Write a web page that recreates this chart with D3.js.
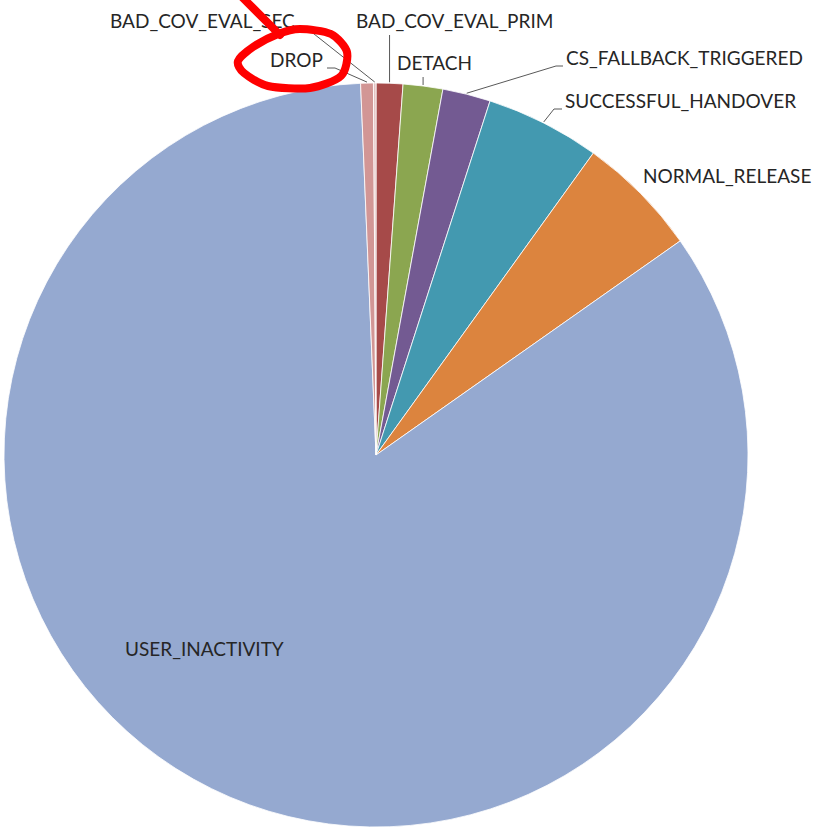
<!DOCTYPE html>
<html>
<head>
<meta charset="utf-8">
<script src="https://cdn.jsdelivr.net/npm/d3@7"></script>
<style>
  html, body { margin: 0; padding: 0; background: #fff; }
  svg { display: block; }
  text { font-family: Lato, "Liberation Sans", sans-serif; fill: #262626; }
</style>
</head>
<body>
<svg id="chart" width="820" height="829"></svg>
<script>
// Connection release causes, share of all releases (%), clockwise from 12 o'clock
const categories = [
  "BAD_COV_EVAL_PRIM", "DETACH", "CS_FALLBACK_TRIGGERED", "SUCCESSFUL_HANDOVER",
  "NORMAL_RELEASE", "USER_INACTIVITY", "DROP", "BAD_COV_EVAL_SEC"
];
const shares = [1.16, 1.72, 2.08, 4.97, 5.31, 84.1, 0.55, 0.11];
const sliceColors = [
  "#a64a49", "#8ba650", "#735a92", "#4399b0",
  "#dc843e", "#95a9d0", "#d29695", "#e4c2c1"
];

// Label placement: text anchor point and how the leader line bends toward the label
const labelLayout = {
  "BAD_COV_EVAL_PRIM":     { x: 356, y: 28,  leader: "vertical", elbowY: 35 },
  "DETACH":                { x: 397, y: 70,  leader: "vertical", elbowY: 77 },
  "CS_FALLBACK_TRIGGERED": { x: 566, y: 65,  leader: "elbow", elbow: [556, 66], tip: [563, 66] },
  "SUCCESSFUL_HANDOVER":   { x: 565, y: 108, leader: "elbow", elbow: [554, 109], tip: [562, 109] },
  "NORMAL_RELEASE":        { x: 643, y: 183, leader: "none" },
  "USER_INACTIVITY":       { x: 125, y: 656, leader: "none" },
  "DROP":                  { x: 270, y: 67,  leader: "elbow", elbow: [335, 68], tip: [327, 68] },
  "BAD_COV_EVAL_SEC":      { x: 110, y: 28,  leader: "elbow", elbow: [309, 30], tip: [302, 30] }
};

const width = 820, height = 829;
const cx = 376, cy = 455, radius = 372;
const fontSize = 19;

const svg = d3.select("#chart");
const g = svg.append("g").attr("transform", `translate(${cx},${cy})`);

const data = categories.map((c, i) => ({ name: c, value: shares[i], color: sliceColors[i] }));

const pie = d3.pie().sort(null).value(d => d.value).startAngle(0).endAngle(2 * Math.PI);
const arc = d3.arc().innerRadius(0).outerRadius(radius);
const arcs = pie(data);

g.selectAll("path.slice")
  .data(arcs)
  .enter().append("path")
  .attr("class", "slice")
  .attr("d", arc)
  .attr("fill", d => d.data.color)
  .attr("stroke", "#ffffff")
  .attr("stroke-width", 0.8);

// Point on the rim at the middle of a slice, in page coordinates
function rimPoint(d) {
  const a = (d.startAngle + d.endAngle) / 2;
  return [cx + radius * Math.sin(a), cy - radius * Math.cos(a)];
}

const leaders = svg.append("g")
  .attr("fill", "none")
  .attr("stroke", "#595959")
  .attr("stroke-width", 1);

arcs.forEach(d => {
  const L = labelLayout[d.data.name];
  const p = rimPoint(d);
  if (L.leader === "vertical") {
    leaders.append("path").attr("d", d3.line()([[p[0], p[1] - 1], [p[0], L.elbowY]]));
  } else if (L.leader === "elbow") {
    leaders.append("path").attr("d", d3.line()([[p[0], p[1] - 1], L.elbow, L.tip]));
  }
});

svg.append("g").selectAll("text")
  .data(arcs)
  .enter().append("text")
  .attr("x", d => labelLayout[d.data.name].x)
  .attr("y", d => labelLayout[d.data.name].y)
  .attr("font-size", fontSize)
  .text(d => d.data.name);

// Hand-drawn highlight around the DROP label
const drop = labelLayout["DROP"];
const ox = drop.x - 270, oy = drop.y - 67;
const loop = [
  [300, 29], [331, 34], [347, 52], [341, 76], [310, 88], [268, 86],
  [244, 73], [238, 61], [253, 47], [278, 34]
].map(([x, y]) => [x + ox, y + oy]);
const marker = svg.append("g")
  .attr("fill", "none")
  .attr("stroke", "#ff0000")
  .attr("stroke-width", 8)
  .attr("stroke-linecap", "round")
  .attr("stroke-linejoin", "round");
marker.append("path").attr("d", d3.line().curve(d3.curveCardinalClosed.tension(0.2))(loop));
marker.append("path").attr("d", d3.line()([[241 + ox, -4 + oy], [280 + ox, 35 + oy]]));
</script>
</body>
</html>
